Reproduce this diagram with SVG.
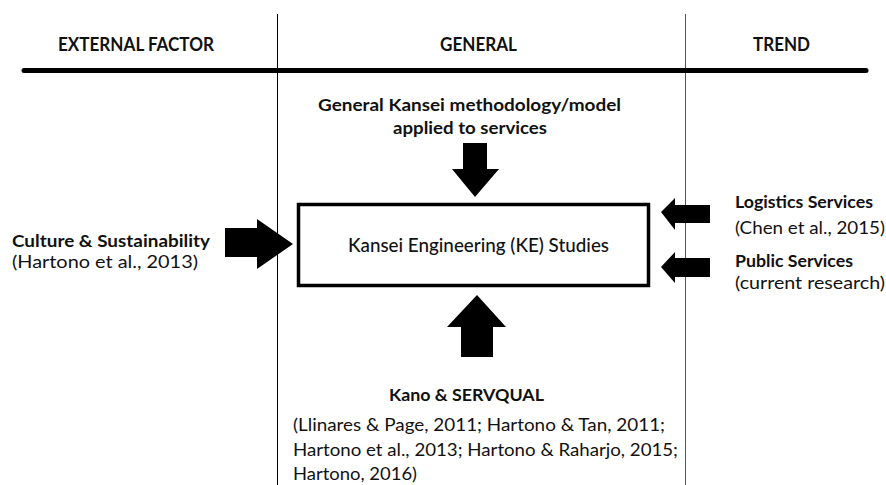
<svg xmlns="http://www.w3.org/2000/svg" width="886" height="485" viewBox="0 0 886 485">
<style>
text{font-family:Lato,"Open Sans","Liberation Sans",sans-serif;fill:#111;}
.h{font-size:19px;font-weight:bold;}
.b{font-size:17px;font-weight:bold;}
.r{font-size:18px;}
.k{font-size:19px;font-weight:500;}
.arr{fill:#000;}
</style>
<rect width="886" height="485" fill="#fff"/>
<g id="grid">
<line x1="277.5" y1="14" x2="277.5" y2="485" stroke="#000" stroke-width="1"/>
<line x1="685.5" y1="14" x2="685.5" y2="485" stroke="#555" stroke-width="1"/>
<line x1="24" y1="70.5" x2="866" y2="70.5" stroke="#000" stroke-width="5" stroke-linecap="round"/>
</g>
<g id="headers">
<text class="h" x="58" y="51" textLength="156" lengthAdjust="spacingAndGlyphs">EXTERNAL FACTOR</text>
<text class="h" x="440" y="51" textLength="77" lengthAdjust="spacingAndGlyphs">GENERAL</text>
<text class="h" x="753" y="51" textLength="57" lengthAdjust="spacingAndGlyphs">TREND</text>
</g>
<g id="ke-studies">
<rect x="298.5" y="204.5" width="350" height="81" fill="#fff" stroke="#000" stroke-width="3.5"/>
<text class="k" x="348" y="252" textLength="261" lengthAdjust="spacingAndGlyphs">Kansei Engineering (KE) Studies</text>
</g>
<g id="general">
<text class="b" x="318" y="111" textLength="303" lengthAdjust="spacingAndGlyphs">General Kansei methodology/model</text>
<text class="b" x="393" y="134" textLength="154" lengthAdjust="spacingAndGlyphs">applied to services</text>
</g>
<g id="culture">
<text class="b" x="12" y="247" textLength="198" lengthAdjust="spacingAndGlyphs">Culture &amp; Sustainability</text>
<text class="r" x="12" y="268" textLength="186" lengthAdjust="spacingAndGlyphs">(Hartono et al., 2013)</text>
</g>
<g id="logistics">
<text class="b" x="735" y="208" textLength="138" lengthAdjust="spacingAndGlyphs">Logistics Services</text>
<text class="r" x="735" y="234" textLength="150" lengthAdjust="spacingAndGlyphs">(Chen et al., 2015)</text>
</g>
<g id="public">
<text class="b" x="735" y="267" textLength="118" lengthAdjust="spacingAndGlyphs">Public Services</text>
<text class="r" x="735" y="289" textLength="150" lengthAdjust="spacingAndGlyphs">(current research)</text>
</g>
<g id="kano">
<text class="b" x="389" y="401" textLength="155" lengthAdjust="spacingAndGlyphs">Kano &amp; SERVQUAL</text>
<text class="r" x="293" y="431" textLength="372" lengthAdjust="spacingAndGlyphs">(Llinares &amp; Page, 2011; Hartono &amp; Tan, 2011;</text>
<text class="r" x="293" y="456" textLength="385" lengthAdjust="spacingAndGlyphs">Hartono et al., 2013; Hartono &amp; Raharjo, 2015;</text>
<text class="r" x="293" y="480" textLength="124" lengthAdjust="spacingAndGlyphs">Hartono, 2016)</text>
</g>
<g id="connectors">
<polygon class="arr" points="463,143 487,143 487,169 499,169 475,197 452,169 463,169"/>
<polygon class="arr" points="225,228 257,228 257,219 293,244 257,269 257,257 225,257"/>
<polygon class="arr" points="477,295 506,327 493,327 493,357 461,357 461,327 447,327"/>
<polygon class="arr" points="661,212 675,198 675,205 710,205 710,223 675,223 675,230"/>
<polygon class="arr" points="661,267 675,252 675,258 710,258 710,277 675,277 675,283"/>
</g>
</svg>
